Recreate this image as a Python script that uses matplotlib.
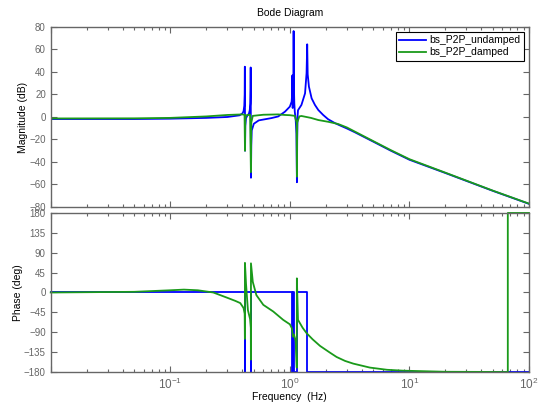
import matplotlib
matplotlib.use("Agg")
import matplotlib.pyplot as plt
from matplotlib.ticker import LogLocator, NullFormatter, FixedLocator

plt.rcParams['font.family'] = ['Liberation Sans', 'DejaVu Sans']
plt.rcParams['mathtext.default'] = 'regular'

# magnitude (dB), undamped
und_mag_f = [0.01, 0.05, 0.1, 0.2, 0.3, 0.38, 0.4, 0.41, 0.416, 0.419, 0.4205, 0.4213,
             0.4222, 0.424, 0.43, 0.44, 0.455, 0.462, 0.467, 0.4695, 0.4705, 0.4715,
             0.473, 0.476, 0.48, 0.5, 0.55, 0.7, 0.8, 0.91, 1.0, 1.035, 1.045,
             1.05, 1.056, 1.066, 1.073, 1.0755, 1.08, 1.09, 1.10, 1.12, 1.135, 1.146,
             1.152, 1.16, 1.17, 1.25, 1.34, 1.38, 1.397, 1.41, 1.444, 1.521, 1.622,
             1.73, 1.9, 2.09, 2.37, 2.6, 3.0, 3.5, 5, 7, 10, 20, 50, 100]
und_mag_db = [-1.8, -1.8, -1.5, -0.8, 0.0, 1.5, 3, 5, 10, 20, 44.7, 10,
              -30, -8, -1, 1, 3, 6, 12, 25, 44, 10,
              -54, -25, -12, -6, -3, -1, 0.5, 4.7, 9.2, 13.6, 20,
              37, 8, 15, 35, 76.4, 30, 12, 4.7, -3, -15, -58,
              -20, 0, 6, 10.7, 21, 39, 64.6, 38, 27, 16.6, 10.7,
              6.2, 1.8, -2, -5.3, -7.3, -10.2, -13.6, -22, -30, -38, -49.8, -65.7, -77.2]

# magnitude (dB), damped
dmp_mag_f = [0.01, 0.05, 0.1, 0.2, 0.3, 0.4, 0.418, 0.4215, 0.424, 0.43, 0.465, 0.4725,
             0.476, 0.49, 0.6, 0.8, 0.91, 1.0, 1.1, 1.14, 1.146, 1.152, 1.2, 1.25,
             1.5, 1.73, 2.1, 2.53, 3.0, 3.5, 5, 7, 10, 20, 50, 100]
dmp_mag_db = [-1.3, -1.2, -0.8, 0.5, 1.8, 2.3, 2.0, -30, -2, 1.5, 2.0, -49,
              -5, 1.0, 2.0, 2.3, 1.8, 1.6, 1.0, -5, -53, -5, 0.5, 0.9,
              -0.8, -2.7, -4.3, -6.2, -9.3, -13, -21.5, -29.5, -37.5, -49.5, -65.5, -77]

# phase (deg), undamped
und_ph_f = [0.01, 0.4205, 0.4205, 0.4222, 0.4222, 0.4705, 0.4705, 0.4735, 0.4735,
            1.045, 1.045, 1.055, 1.055, 1.0755, 1.0755, 1.146, 1.146, 1.397, 1.397, 100]
und_ph_deg = [0, 0, -180, -180, 0, 0, -180, -180, 0,
              0, -180, -180, 0, 0, -180, -180, 0, 0, -180, -180]

# phase (deg), damped
dmp_ph_f = [0.01, 0.05, 0.1, 0.13, 0.17, 0.229, 0.3, 0.35, 0.385, 0.41, 0.419,
            0.4208, 0.4212, 0.43, 0.446, 0.465, 0.4715, 0.4725, 0.473, 0.49, 0.525,
            0.6, 0.726, 0.88, 1.0, 1.04, 1.06, 1.08, 1.12, 1.143, 1.145, 1.17, 1.28,
            1.38, 1.55, 1.79, 2.16, 2.46, 2.9, 3.39, 4.67, 6.5, 8.85, 20, 66.5, 66.5, 100]
dmp_ph_deg = [0, 1.5, 5, 6.5, 5, 0, -12, -19, -24, -35, -48,
              -105, 67, 20, -40, -60, -80, -152, 66, 24, -6,
              -28, -43, -62, -72, -81, -100, -95, -110, -170, 32, -62, -80,
              -92, -106, -121, -136, -146, -155, -161, -170, -175, -177, -179.5, -180, 180, 180]

blue = '#0000ff'
green = '#1a9a1a'
gray = '#666666'

fig = plt.figure(figsize=(5.41, 4.07), dpi=100)
ax1 = fig.add_axes([0.0937, 0.4914, 0.8841, 0.4423])
ax2 = fig.add_axes([0.0937, 0.0860, 0.8841, 0.3907])

ax1.semilogx(und_mag_f, und_mag_db, color=blue, lw=1.3, label='bs_P2P_undamped')
ax1.semilogx(dmp_mag_f, dmp_mag_db, color=green, lw=1.3, label='bs_P2P_damped')
ax2.semilogx(und_ph_f, und_ph_deg, color=blue, lw=1.3, clip_on=False)
ax2.semilogx(dmp_ph_f, dmp_ph_deg, color=green, lw=1.3, clip_on=False)

ax1.set_ylim(-80, 80)
ax1.set_yticks(range(-80, 81, 20))
ax2.set_ylim(-180, 180)
ax2.set_yticks(range(-180, 181, 45))

for ax in (ax1, ax2):
    ax.set_xlim(0.01, 100)
    ax.xaxis.set_major_locator(FixedLocator([0.01, 0.1, 1, 10, 100]))
    ax.xaxis.set_minor_locator(LogLocator(base=10, subs=range(2, 10), numticks=20))
    ax.xaxis.set_minor_formatter(NullFormatter())
    ax.tick_params(which='both', direction='in', top=True, right=True,
                   colors=gray, labelsize=7, width=0.8)
    ax.tick_params(which='major', length=4)
    ax.tick_params(which='minor', length=2)
    for s in ax.spines.values():
        s.set_color(gray)
        s.set_linewidth(1.0)
        s.set_zorder(3)

ax1.tick_params(labelbottom=False)
ax2.tick_params(axis='x', labelsize=8.5)
ax2.set_xticklabels(['', r'$10^{-1}$', r'$10^{0}$', r'$10^{1}$', r'$10^{2}$'])

ax1.set_ylabel('Magnitude (dB)', fontsize=7.5, labelpad=1)
ax2.set_ylabel('Phase (deg)', fontsize=7.5, labelpad=1)
ax2.set_xlabel('Frequency  (Hz)', fontsize=7.5, labelpad=0)
ax1.set_title('Bode Diagram', fontsize=7.5, pad=8)

leg = ax1.legend(loc='upper right', fontsize=7.5, fancybox=False, framealpha=1,
                 edgecolor='black', handlelength=2.6, borderpad=0.3,
                 labelspacing=0.2, handletextpad=0.3, borderaxespad=0.5)
leg.get_frame().set_linewidth(0.8)

fig.savefig('out.png', dpi=100)
